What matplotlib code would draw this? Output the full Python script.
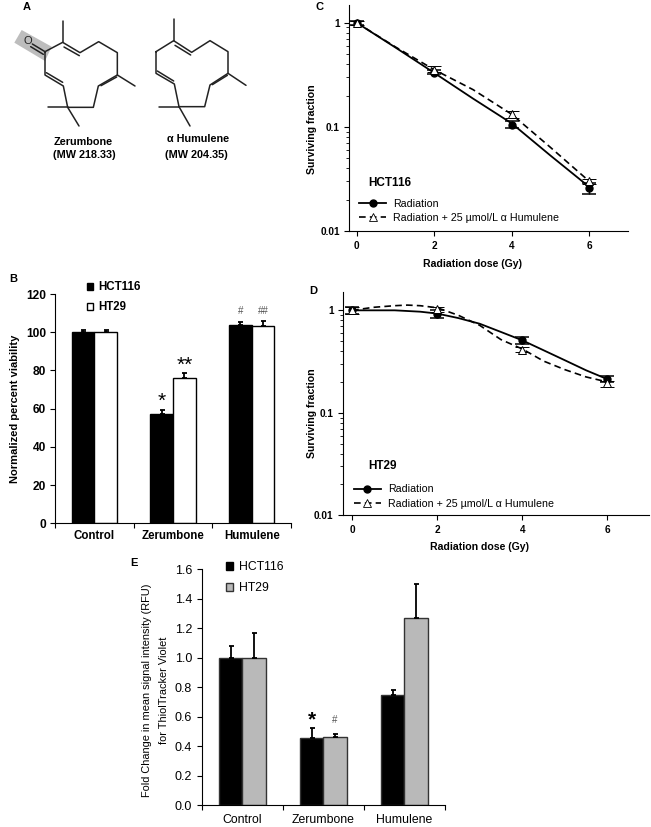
"""Figure with molecule drawings, viability bars and survival curves."""
import matplotlib
matplotlib.use('Agg')
import matplotlib.pyplot as plt
from matplotlib.lines import Line2D
from matplotlib.patches import Patch, Polygon

plt.rcParams['font.family'] = ['Liberation Sans', 'DejaVu Sans']

ANCHO, ALTO = 651, 827

# panel B
categorias = ['Control', 'Zerumbone', 'Humulene']
viab_hct116 = [100, 57, 104]
viab_ht29 = [100, 76, 103.5]
viab_err_hct116 = [1.2, 2.2, 1.3]
viab_err_ht29 = [1.2, 2.5, 2.5]

# panel C
dosis = [0, 2, 4, 6]
curva_dosis = [0, 1, 2, 3, 4, 5, 6]
c_rad = [1.0, 0.33, 0.105, 0.026]
c_rad_alto = [1.05, 0.35, 0.114, 0.029]
c_rad_bajo = [0.95, 0.325, 0.097, 0.0228]
c_rad_curva = [1.0, 0.578, 0.33, 0.187, 0.108, 0.053, 0.0265]
c_hum = [1.0, 0.355, 0.132, 0.030]
c_hum_alto = [1.05, 0.381, 0.142, 0.0317]
c_hum_bajo = [0.95, 0.335, 0.122, 0.0285]
c_hum_curva = [1.0, 0.585, 0.354, 0.228, 0.132, 0.0635, 0.030]

# panel D
d_curva_dosis = [0, 0.5, 1, 1.3, 1.6, 2, 2.5, 3, 3.5, 4, 4.5, 5, 5.5, 6]
d_rad = [1.0, 0.93, 0.51, 0.213]
d_rad_alto = [1.08, 1.0, 0.55, 0.228]
d_rad_bajo = [0.93, 0.85, 0.47, 0.2]
d_rad_curva = [1.0, 1.0, 1.0, 0.985, 0.97, 0.93, 0.84, 0.74, 0.615, 0.51, 0.408, 0.326, 0.26, 0.213]
d_hum = [1.0, 1.03, 0.413, 0.197]
d_hum_alto = [1.08, 1.09, 0.44, 0.203]
d_hum_bajo = [0.93, 0.96, 0.39, 0.18]
d_hum_curva = [1.0, 1.07, 1.11, 1.125, 1.11, 1.06, 0.894, 0.714, 0.518, 0.42, 0.32, 0.264, 0.224, 0.2]

# panel E
fold_hct116 = [1.0, 0.455, 0.75]
fold_ht29 = [1.0, 0.465, 1.27]
fold_err_hct116 = [0.08, 0.07, 0.03]
fold_err_ht29 = [0.17, 0.02, 0.23]

# panel A, molecule outlines in zoomed pixels (3x)
zer_anillo = [(135, 155), (188, 127), (240, 158), (296, 125), (352, 158), (352, 225), (295, 258),
              (280, 322), (203, 322), (190, 258), (135, 225), (135, 155)]
zer_ramas = [[(188, 127), (188, 62)], [(352, 225), (405, 258)], [(203, 322), (143, 322)],
             [(203, 322), (237, 378)], [(135, 155), (97, 132)], [(130, 163), (92, 140)]]
zer_dobles = [[(192, 141), (238, 167)], [(303, 257), (350, 231)], [(139, 218), (188, 247)]]
hum_anillo = [(468, 155), (521, 122), (575, 157), (630, 122), (684, 155), (684, 220), (630, 255),
              (614, 320), (537, 320), (523, 252), (468, 220), (468, 155)]
hum_ramas = [[(521, 122), (521, 58)], [(684, 220), (738, 256)], [(537, 320), (477, 320)],
             [(537, 320), (570, 378)]]
hum_dobles = [[(525, 136), (572, 165)], [(637, 254), (682, 226)], [(472, 213), (521, 243)]]
sombra = [(65, 90), (155, 140), (135, 183), (43, 128)]


def crear_ejes(fig, izq, arriba, der, abajo):
    # axes box given in image pixels
    return fig.add_axes([izq / ANCHO, 1 - abajo / ALTO, (der - izq) / ANCHO, (abajo - arriba) / ALTO])


def trazar(ax, puntos):
    xs = [p[0] / 3 for p in puntos]
    ys = [p[1] / 3 for p in puntos]
    ax.plot(xs, ys, color='#222222', lw=1.1, solid_capstyle='round')


def dibujar_moleculas(ax):
    ax.add_patch(Polygon([(x / 3, y / 3) for x, y in sombra], color='#bdbdbd', lw=0))
    for linea in [zer_anillo, hum_anillo] + zer_ramas + hum_ramas + zer_dobles + hum_dobles:
        trazar(ax, linea)
    ax.text(28, 41.5, 'O', fontsize=8, ha='center', va='center', color='#222222')
    ax.text(83, 142, 'Zerumbone', fontsize=7.8, fontweight='bold', ha='center', va='center')
    ax.text(84, 155.5, '(MW 218.33)', fontsize=7.8, fontweight='bold', ha='center', va='center')
    ax.text(198.5, 139, 'α Humulene', fontsize=7.8, fontweight='bold', ha='center', va='center')
    ax.text(196.5, 154.5, '(MW 204.35)', fontsize=7.8, fontweight='bold', ha='center', va='center')


def limpiar(ax):
    ax.spines['top'].set_visible(False)
    ax.spines['right'].set_visible(False)
    ax.patch.set_alpha(0)


def grafico_barras(ax, serie1, serie2, err1, err2, color2, borde, ancho=0.288):
    limpiar(ax)
    pos = range(len(categorias))
    ax.bar([p - ancho / 2 for p in pos], serie1, ancho, color='black', edgecolor=borde, lw=1)
    ax.bar([p + ancho / 2 for p in pos], serie2, ancho, color=color2, edgecolor=borde, lw=1)
    ax.errorbar([p - ancho / 2 for p in pos], serie1, yerr=[[0] * 3, err1], fmt='none', ecolor='black',
                elinewidth=1.3, capsize=1.8, capthick=1.3)
    ax.errorbar([p + ancho / 2 for p in pos], serie2, yerr=[[0] * 3, err2], fmt='none', ecolor='black',
                elinewidth=1.3, capsize=1.8, capthick=1.3)
    ax.set_xlim(-0.5, 2.5)
    # ticks between groups, names centred under them
    ax.set_xticks([-0.5, 0.5, 1.5, 2.5])
    ax.set_xticklabels([])
    ax.set_xticks(list(pos), minor=True)
    ax.tick_params(axis='x', which='minor', length=0)
    ax.tick_params(axis='both', which='major', length=3.5, width=0.8)


def grafico_supervivencia(ax, curva_x, rad, rad_alto, rad_bajo, rad_curva, hum, hum_alto, hum_bajo, hum_curva):
    limpiar(ax)
    ax.set_yscale('log')
    ax.plot(curva_x, rad_curva, color='black', lw=1.3)
    ax.plot(curva_x, hum_curva, color='black', lw=1.2, dashes=(4, 2.5))
    ax.errorbar(dosis, rad, yerr=[[v - b for v, b in zip(rad, rad_bajo)], [a - v for v, a in zip(rad, rad_alto)]],
                fmt='o', color='black', ms=5, elinewidth=1, capsize=5, capthick=1.1)
    ax.errorbar(dosis, hum, yerr=[[v - b for v, b in zip(hum, hum_bajo)], [a - v for v, a in zip(hum, hum_alto)]],
                fmt='^', color='black', mfc='white', mew=0.7, ms=5.5, elinewidth=1, capsize=5, capthick=1.1)
    ax.set_xticks(dosis)
    ax.set_xticklabels([str(d) for d in dosis], fontsize=7.2, fontweight='bold')
    ax.set_yticks([1, 0.1, 0.01])
    ax.set_yticklabels(['1', '0.1', '0.01'], fontsize=7.2, fontweight='bold')
    ax.tick_params(axis='both', which='major', length=3.5, width=0.8)
    ax.tick_params(axis='y', which='minor', length=2, width=0.6)
    ax.set_xlabel('Radiation dose (Gy)', fontsize=7.6, fontweight='bold')
    ax.set_ylabel('Surviving fraction', fontsize=7.6, fontweight='bold')
    manejadores = [
        Line2D([], [], color='black', lw=1.3, marker='o', ms=5),
        Line2D([], [], color='black', lw=1.2, dashes=(4, 2.5), marker='^', mfc='white', mew=0.6, ms=5.5),
    ]
    return ax.legend(manejadores, ['Radiation', 'Radiation + 25 µmol/L α Humulene'], frameon=False,
                     fontsize=7.7, handlelength=2.5, handletextpad=0.7, labelspacing=0.4,
                     loc='lower left', borderpad=0, borderaxespad=0)


def main():
    fig = plt.figure(figsize=(ANCHO / 100, ALTO / 100), dpi=100)

    # overlay in pixel coordinates for drawings and panel letters
    capa = fig.add_axes([0, 0, 1, 1])
    capa.set_xlim(0, ANCHO)
    capa.set_ylim(ALTO, 0)
    capa.axis('off')
    dibujar_moleculas(capa)
    for letra, x, y in [('A', 27, 7), ('B', 13, 279), ('C', 320, 7), ('D', 313, 291), ('E', 134, 563)]:
        capa.text(x, y, letra, fontsize=8, fontweight='bold', ha='center', va='center')

    # panel B
    ax_b = crear_ejes(fig, 55, 294, 291, 523.3)
    grafico_barras(ax_b, viab_hct116, viab_ht29, viab_err_hct116, viab_err_ht29, 'white', 'black')
    ax_b.set_ylim(0, 120)
    ax_b.set_yticks(range(0, 121, 20))
    ax_b.tick_params(axis='y', labelsize=8.6, pad=3)
    for etiqueta in ax_b.get_yticklabels():
        etiqueta.set_fontweight('bold')
    ax_b.set_xticklabels(categorias, minor=True, fontsize=8.3, fontweight='bold')
    ax_b.tick_params(axis='x', which='minor', pad=4.5)
    ax_b.set_ylabel('Normalized percent viability', fontsize=8, fontweight='bold', labelpad=4)
    ax_b.legend([Patch(fc='black', ec='black'), Patch(fc='white', ec='black')], ['HCT116', 'HT29'],
                frameon=False, prop={'size': 8.3, 'weight': 'bold'}, handlelength=0.55, handleheight=0.55,
                handletextpad=0.45, labelspacing=0.7, loc='upper left', bbox_to_anchor=(0.135, 1.055),
                borderpad=0, borderaxespad=0)
    ax_b.text(0.856, 64, '*', fontsize=15, ha='center', va='center')
    ax_b.text(1.144, 82.5, '**', fontsize=15, ha='center', va='center')
    ax_b.text(1.856, 111, '#', fontsize=7, color='#555555', ha='center', va='center')
    ax_b.text(2.144, 111, '##', fontsize=7, color='#555555', ha='center', va='center')

    # panel C
    ax_c = crear_ejes(fig, 349.5, 5, 628, 231)
    ley = grafico_supervivencia(ax_c, curva_dosis, c_rad, c_rad_alto, c_rad_bajo, c_rad_curva,
                                c_hum, c_hum_alto, c_hum_bajo, c_hum_curva)
    ley.set_bbox_to_anchor((0.035, 0.035), transform=ax_c.transAxes)
    ax_c.set_xlim(-0.186, 7)
    ax_c.set_ylim(0.01, 1.48)
    ax_c.xaxis.set_label_coords(0.443, -0.124)
    ax_c.yaxis.set_label_coords(-0.116, 0.451)
    ax_c.text(0.29, 0.0289, 'HCT116', fontsize=8.5, fontweight='bold', va='center')

    # panel D
    ax_d = crear_ejes(fig, 343.3, 291.7, 649, 515.3)
    ley = grafico_supervivencia(ax_d, d_curva_dosis, d_rad, d_rad_alto, d_rad_bajo, d_rad_curva,
                                d_hum, d_hum_alto, d_hum_bajo, d_hum_curva)
    ley.set_bbox_to_anchor((0.035, 0.03), transform=ax_d.transAxes)
    ax_d.set_xlim(-0.207, 6.98)
    ax_d.set_ylim(0.01, 1.52)
    ax_d.xaxis.set_label_coords(0.444, -0.119)
    ax_d.yaxis.set_label_coords(-0.086, 0.458)
    ax_d.text(0.37, 0.0305, 'HT29', fontsize=8.5, fontweight='bold', va='center')

    # panel E
    ax_e = crear_ejes(fig, 201.7, 569.3, 445, 805.3)
    grafico_barras(ax_e, fold_hct116, fold_ht29, fold_err_hct116, fold_err_ht29, '#b9b9b9', '#333333')
    ax_e.set_ylim(0, 1.6)
    ax_e.set_yticks([0.2 * i for i in range(9)])
    ax_e.set_yticklabels([f'{0.2 * i:.1f}' for i in range(9)], fontsize=9)
    ax_e.set_xticklabels(categorias, minor=True, fontsize=8.8)
    ax_e.tick_params(axis='x', which='minor', pad=6)
    ax_e.legend([Patch(fc='black', ec='black'), Patch(fc='#b9b9b9', ec='#333333')], ['HCT116', 'HT29'],
                frameon=False, fontsize=8.8, handlelength=0.6, handleheight=0.6, handletextpad=0.45,
                labelspacing=0.75, loc='upper left', bbox_to_anchor=(0.1, 1.035), borderpad=0, borderaxespad=0)
    ax_e.text(0.856, 0.58, '*', fontsize=15, fontweight='bold', ha='center', va='center')
    ax_e.text(1.144, 0.575, '#', fontsize=7, color='#555555', ha='center', va='center')
    capa.text(147, 690, 'Fold Change in mean signal intensity (RFU)', fontsize=7.9, rotation=90,
              ha='center', va='center')
    capa.text(164, 690, 'for ThiolTracker Violet', fontsize=7.9, rotation=90, ha='center', va='center')

    fig.savefig('out.png', dpi=100)
    plt.close(fig)


if __name__ == '__main__':
    main()
